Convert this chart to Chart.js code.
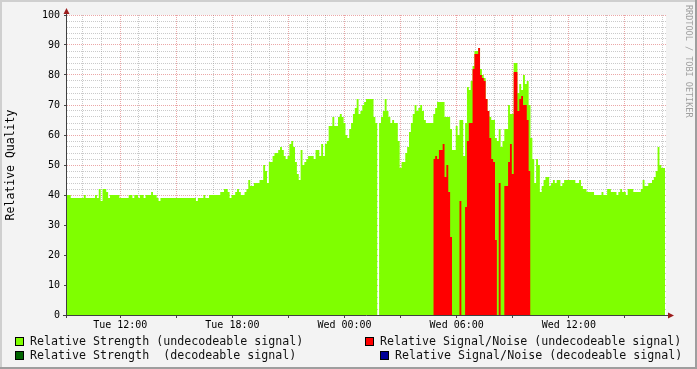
<!DOCTYPE html>
<html>
<head>
<meta charset="utf-8">
<script src="https://cdn.jsdelivr.net/npm/chart.js@4/dist/chart.umd.min.js"></script>
<style>
  html, body { margin: 0; padding: 0; background: #f3f3f3; }
  canvas { display: block; }
</style>
</head>
<body>
<canvas id="chart" width="697" height="369"></canvas>
<script>
// one sample every 6 minutes, hours counted from Tue 00:00
const startHour = 9.15;
const stepHours = 0.1;
const endHour = 41.2;

const strengthUndecodeable = [
  40,40,39,39,39,39,39,39,39,40, 39,39,39,39,39,40,39,42,38,42,
  42,41,39,40,40,40,40,40,39,39, 39,39,39,40,40,39,40,40,39,40,
  40,39,40,40,40,41,40,40,39,38, 39,39,39,39,39,39,39,39,39,39,
  39,39,39,39,39,39,39,39,39,38, 39,39,39,40,39,39,40,40,40,40,
  40,40,41,41,42,42,41,39,40,40, 41,42,41,40,40,41,42,45,43,43,
  44,44,44,45,45,50,48,44,51,51, 53,54,54,55,56,55,53,52,53,57,
  58,56,51,47,45,55,50,51,52,53, 53,53,52,55,55,53,57,53,57,58,
  63,63,66,63,63,66,67,66,64,60, 59,62,64,67,69,72,67,68,70,71,
  72,72,72,72,66,64,0,64,66,68, 72,68,66,64,65,64,64,58,49,51,
  51,54,56,61,64,67,70,68,69,70, 68,65,64,64,64,64,67,69,71,71,
  71,71,66,66,66,62,55,55,63,60, 65,65,53,64,76,75,78,83,88,88,
  89,82,80,79,72,68,66,65,65,59, 58,62,56,58,62,62,70,67,67,84,
  84,74,77,75,80,77,78,70,59,52, 44,52,50,41,43,45,46,46,43,44,
  45,44,45,45,43,44,45,45,45,45, 45,45,44,44,45,43,42,42,41,41,
  41,41,40,40,40,40,41,40,40,42, 42,41,41,41,40,41,42,41,41,40,
  42,42,42,41,41,41,41,42,45,43, 43,44,44,45,46,48,56,50,49,49
];

const snrUndecodeableStart = 28.75;
const snrUndecodeable = [
  52,53,52,55,55,57,46,50,41,26,
  0,0,0,0,38,0,0,36,58,64,
  64,82,87,87,89,80,79,78,72,68,
  59,52,51,25,0,44,0,0,43,43,
  51,57,47,81,81,68,72,73,70,70,
  65,48,0
];

const strengthDecodeable = [];
const snrDecodeable = [];

const tickHours = [12, 18, 24, 30, 36];
const tickLabels = ['Tue 12:00', 'Tue 18:00', 'Wed 00:00', 'Wed 06:00', 'Wed 12:00'];
const yLabelEvery = 10;

function toPoints(values, from) {
  return values.map((v, i) => ({ x: from + i * stepHours, y: v }));
}

const strengthPoints = toPoints(strengthUndecodeable, startHour);
// close the last step
strengthPoints.push({
  x: startHour + strengthUndecodeable.length * stepHours,
  y: strengthUndecodeable[strengthUndecodeable.length - 1]
});

const MONO = '"DejaVu Sans Mono", monospace';
const minorGrid = 'rgba(150,150,150,0.5)';
const majorGrid = 'rgba(210,60,60,0.45)';

const rrdFrame = {
  id: 'rrdFrame',
  beforeDraw(chart) {
    const ctx = chart.ctx, a = chart.chartArea;
    ctx.save();
    ctx.fillStyle = '#f3f3f3';
    ctx.fillRect(0, 0, chart.width, chart.height);
    ctx.fillStyle = '#ffffff';
    ctx.fillRect(a.left, a.top, a.right - a.left, a.bottom - a.top);
    ctx.restore();
  },
  afterDraw(chart) {
    const ctx = chart.ctx, a = chart.chartArea;
    const W = chart.width, H = chart.height;
    ctx.save();
    // axes
    ctx.strokeStyle = '#404040';
    ctx.lineWidth = 1;
    ctx.beginPath();
    ctx.moveTo(a.left - 0.5, a.top - 3);
    ctx.lineTo(a.left - 0.5, a.bottom + 3);
    ctx.moveTo(a.left - 4, a.bottom + 0.5);
    ctx.lineTo(a.right + 4, a.bottom + 0.5);
    ctx.stroke();
    // arrows
    ctx.fillStyle = '#9c1c1c';
    ctx.beginPath();
    ctx.moveTo(a.left - 0.5, a.top - 7);
    ctx.lineTo(a.left - 3.5, a.top - 1);
    ctx.lineTo(a.left + 2.5, a.top - 1);
    ctx.closePath();
    ctx.fill();
    ctx.beginPath();
    ctx.moveTo(a.right + 8, a.bottom + 0.5);
    ctx.lineTo(a.right + 2, a.bottom - 2.5);
    ctx.lineTo(a.right + 2, a.bottom + 3.5);
    ctx.closePath();
    ctx.fill();
    // watermark
    ctx.translate(688, 5);
    ctx.rotate(Math.PI / 2);
    ctx.fillStyle = '#a0a0a0';
    ctx.font = '8.5px ' + MONO;
    ctx.textBaseline = 'middle';
    ctx.fillText('RRDTOOL / TOBI OETIKER', 0, 0);
    ctx.setTransform(1, 0, 0, 1, 0, 0);
    // shaded frame
    ctx.fillStyle = '#cfcfcf';
    ctx.fillRect(0, 0, W, 2);
    ctx.fillRect(0, 0, 2, H);
    ctx.fillStyle = '#9e9e9e';
    ctx.fillRect(W - 2, 0, 2, H);
    ctx.fillRect(0, H - 2, W, 2);
    ctx.restore();
  }
};

const rrdLegend = {
  id: 'rrdLegend',
  afterDraw(chart) {
    const ctx = chart.ctx;
    const spots = [[15, 30, 341], [365, 380, 341], [15, 30, 355], [380, 395, 355]];
    ctx.save();
    ctx.font = '11.65px ' + MONO;
    ctx.textBaseline = 'middle';
    chart.data.datasets.forEach((ds, i) => {
      const [bx, tx, y] = spots[i];
      ctx.fillStyle = ds.backgroundColor;
      ctx.fillRect(bx, y - 4, 9, 9);
      ctx.strokeStyle = '#000';
      ctx.lineWidth = 1;
      ctx.strokeRect(bx + 0.5, y - 3.5, 8, 8);
      ctx.fillStyle = '#111';
      ctx.fillText(ds.label, tx, y + 1);
    });
    ctx.restore();
  }
};

new Chart(document.getElementById('chart'), {
  type: 'line',
  data: {
    datasets: [
      {
        label: 'Relative Strength (undecodeable signal)',
        data: strengthPoints,
        backgroundColor: '#7fff00',
        borderWidth: 0,
        fill: 'origin',
        stepped: true,
        pointRadius: 0,
        order: 2
      },
      {
        label: 'Relative Signal/Noise (undecodeable signal)',
        data: toPoints(snrUndecodeable, snrUndecodeableStart),
        backgroundColor: '#ff0000',
        borderWidth: 0,
        fill: 'origin',
        stepped: true,
        pointRadius: 0,
        order: 1
      },
      {
        label: 'Relative Strength  (decodeable signal)',
        data: strengthDecodeable,
        backgroundColor: '#006400',
        borderWidth: 0,
        fill: 'origin',
        stepped: true,
        pointRadius: 0,
        order: 0
      },
      {
        label: 'Relative Signal/Noise (decodeable signal)',
        data: snrDecodeable,
        backgroundColor: '#000096',
        borderWidth: 0,
        fill: 'origin',
        stepped: true,
        pointRadius: 0,
        order: 0
      }
    ]
  },
  options: {
    responsive: false,
    animation: false,
    devicePixelRatio: 1,
    layout: { padding: { left: 0, top: 15, right: 31, bottom: 34 } },
    plugins: {
      legend: { display: false },
      tooltip: { enabled: false }
    },
    scales: {
      x: {
        type: 'linear',
        min: startHour,
        max: endHour,
        z: 1,
        afterFit: (s) => { s.height = 20; },
        border: { display: false, dash: [1, 1] },
        grid: {
          color: (c) => (c.tick && c.tick.value % 3 === 0) ? majorGrid : minorGrid,
          tickColor: (c) => (c.tick && c.tick.value % 3 === 0) ? '#444' : 'rgba(0,0,0,0)',
          tickLength: 3
        },
        ticks: {
          stepSize: 1,
          includeBounds: false,
          autoSkip: false,
          maxRotation: 0,
          padding: 1,
          color: '#000',
          font: { family: MONO, size: 10 },
          callback: (v) => {
            const k = tickHours.indexOf(v);
            return k >= 0 ? tickLabels[k] : '';
          }
        }
      },
      y: {
        min: 0,
        max: 100,
        z: 1,
        afterFit: (s) => { s.width = 67; },
        border: { display: false, dash: [1, 1] },
        grid: {
          color: (c) => (c.tick && c.tick.value % yLabelEvery === 0) ? majorGrid : minorGrid,
          tickColor: (c) => (c.tick && c.tick.value % yLabelEvery === 0) ? '#444' : 'rgba(0,0,0,0)',
          tickLength: 3
        },
        ticks: {
          stepSize: 2,
          autoSkip: false,
          padding: 4,
          color: '#000',
          font: { family: MONO, size: 10 },
          callback: (v) => (v % yLabelEvery === 0 ? String(v) : '')
        },
        title: {
          display: true,
          text: 'Relative Quality',
          color: '#000',
          font: { family: MONO, size: 11.5 },
          padding: { top: 4, bottom: 4 }
        }
      }
    }
  },
  plugins: [rrdFrame, rrdLegend]
});
</script>
</body>
</html>
